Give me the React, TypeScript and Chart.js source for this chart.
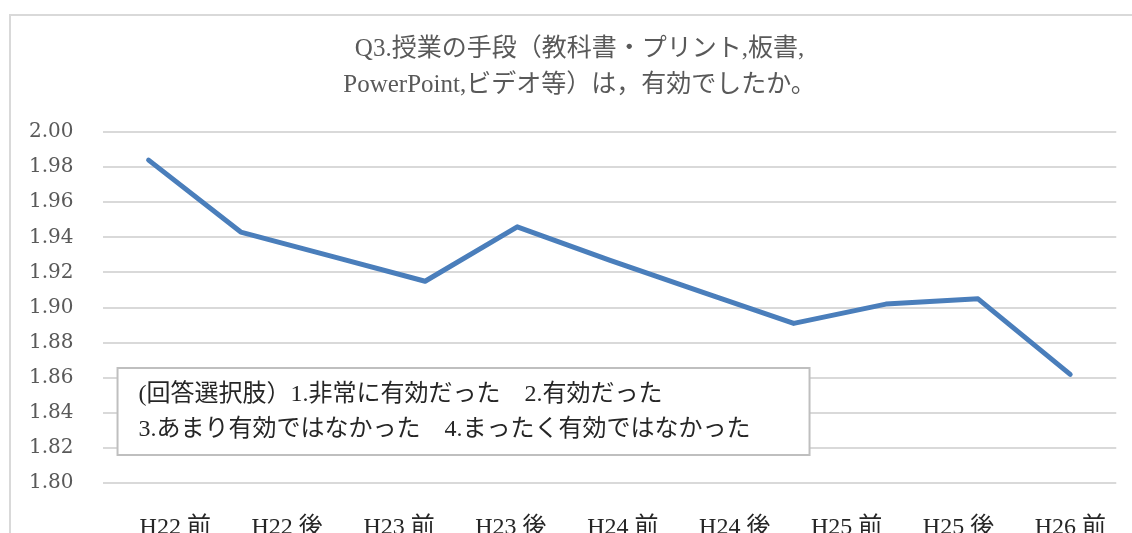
import React, { useEffect, useRef } from "react";
import { Chart, registerables } from "chart.js";

Chart.register(...registerables);

// 11 survey points plotted along the line
const pointLabels = [
  "H22 前", "H22 後", "H23 前", "H23 後", "H24 前", "H24 後",
  "H25 前", "H25 後", "H26 前", "H26 後", "H27 前",
];
const meanScores = [1.984, 1.943, 1.929, 1.915, 1.946, 1.927, 1.909, 1.891, 1.902, 1.905, 1.862];

// axis labels as printed under the chart
const axisLabels = ["H22 前", "H22 後", "H23 前", "H23 後", "H24 前", "H24 後", "H25 前", "H25 後", "H26 前"];

const yTicks = [1.8, 1.82, 1.84, 1.86, 1.88, 1.9, 1.92, 1.94, 1.96, 1.98, 2.0];

const titleLines = [
  "Q3.授業の手段（教科書・プリント,板書,",
  "PowerPoint,ビデオ等）は，有効でしたか。",
];
const noteLines = [
  "(回答選択肢）1.非常に有効だった　2.有効だった",
  "3.あまり有効ではなかった　4.まったく有効ではなかった",
];

const SERIF = '"Liberation Serif", "Noto Sans CJK JP", serif';

const notePlugin = {
  id: "noteBox",
  afterLayout(chart: any) {
    const t = chart.titleBlock;
    if (t) {
      t.left += 11;
      t.right += 11;
    }
  },
  afterDatasetsDraw(chart: any) {
    const { ctx, chartArea } = chart;
    const x = chartArea.left + 15;
    const y = chartArea.top + 236;
    const w = 692;
    const h = 87;
    ctx.save();
    ctx.fillStyle = "#ffffff";
    ctx.fillRect(x, y, w, h);
    ctx.strokeStyle = "#bfbfbf";
    ctx.lineWidth = 2;
    ctx.strokeRect(x, y, w, h);
    ctx.fillStyle = "#262626";
    ctx.font = `24px ${SERIF}`;
    ctx.textBaseline = "middle";
    ctx.textAlign = "left";
    noteLines.forEach((line, i) => {
      ctx.fillText(line, x + 21, y + 27 + i * 35);
    });
    ctx.restore();
  },
};

export default function App() {
  const ref = useRef<HTMLCanvasElement | null>(null);

  useEffect(() => {
    if (!ref.current) return;
    const chart = new Chart(ref.current, {
      type: "line",
      data: {
        labels: pointLabels,
        datasets: [
          {
            data: meanScores,
            borderColor: "#4a7ebb",
            borderWidth: 5,
            borderCapStyle: "round",
            borderJoinStyle: "round",
            pointRadius: 0,
            tension: 0,
            xAxisID: "x",
            yAxisID: "y",
          },
        ],
      },
      options: {
        animation: false,
        responsive: false,
        layout: { padding: { left: 0, right: 0, top: 0, bottom: 0 } },
        plugins: {
          legend: { display: false },
          tooltip: { enabled: false },
          title: {
            display: true,
            text: titleLines,
            color: "#595959",
            font: { family: SERIF, size: 25, weight: "normal", lineHeight: 1.44 },
            padding: { top: 31, bottom: 29 },
          },
        },
        scales: {
          x: {
            type: "category",
            display: false,
            offset: true,
          },
          xl: {
            type: "linear",
            position: "bottom",
            min: -0.65,
            max: 8.41,
            afterBuildTicks: (axis: any) => {
              axis.ticks = axisLabels.map((_, i) => ({ value: i }));
            },
            grid: { display: false, drawTicks: false },
            border: { display: false },
            ticks: {
              autoSkip: false,
              maxRotation: 0,
              minRotation: 0,
              padding: 30,
              color: "#262626",
              font: { family: SERIF, size: 24 },
              callback: (v: any) => axisLabels[Math.round(Number(v))] ?? "",
            },
          },
          y: {
            min: 1.8,
            max: 2.0,
            afterBuildTicks: (axis: any) => {
              axis.ticks = yTicks.map((v) => ({ value: v }));
            },
            grid: { color: "#d9d9d9", lineWidth: 2, drawTicks: false },
            border: { display: false },
            ticks: {
              padding: 29,
              color: "#595959",
              font: { family: '"DejaVu Serif", serif', size: 20 },
              callback: (v: any) => Number(v).toFixed(2),
            },
          },
        },
      },
      plugins: [notePlugin],
    } as any);
    return () => chart.destroy();
  }, []);

  return (
    <div
      style={{
        position: "fixed",
        left: 0,
        top: 0,
        width: 1132,
        height: 533,
        overflow: "hidden",
        background: "#ffffff",
      }}
    >
      <div
        style={{
          position: "absolute",
          left: 9,
          top: 14,
          width: 1200,
          height: 600,
          borderLeft: "2px solid #d9d9d9",
          borderTop: "2px solid #d9d9d9",
        }}
      />
      <canvas
        ref={ref}
        width={1137}
        height={572}
        style={{ position: "absolute", left: 0, top: 0, width: 1137, height: 572 }}
      />
    </div>
  );
}
